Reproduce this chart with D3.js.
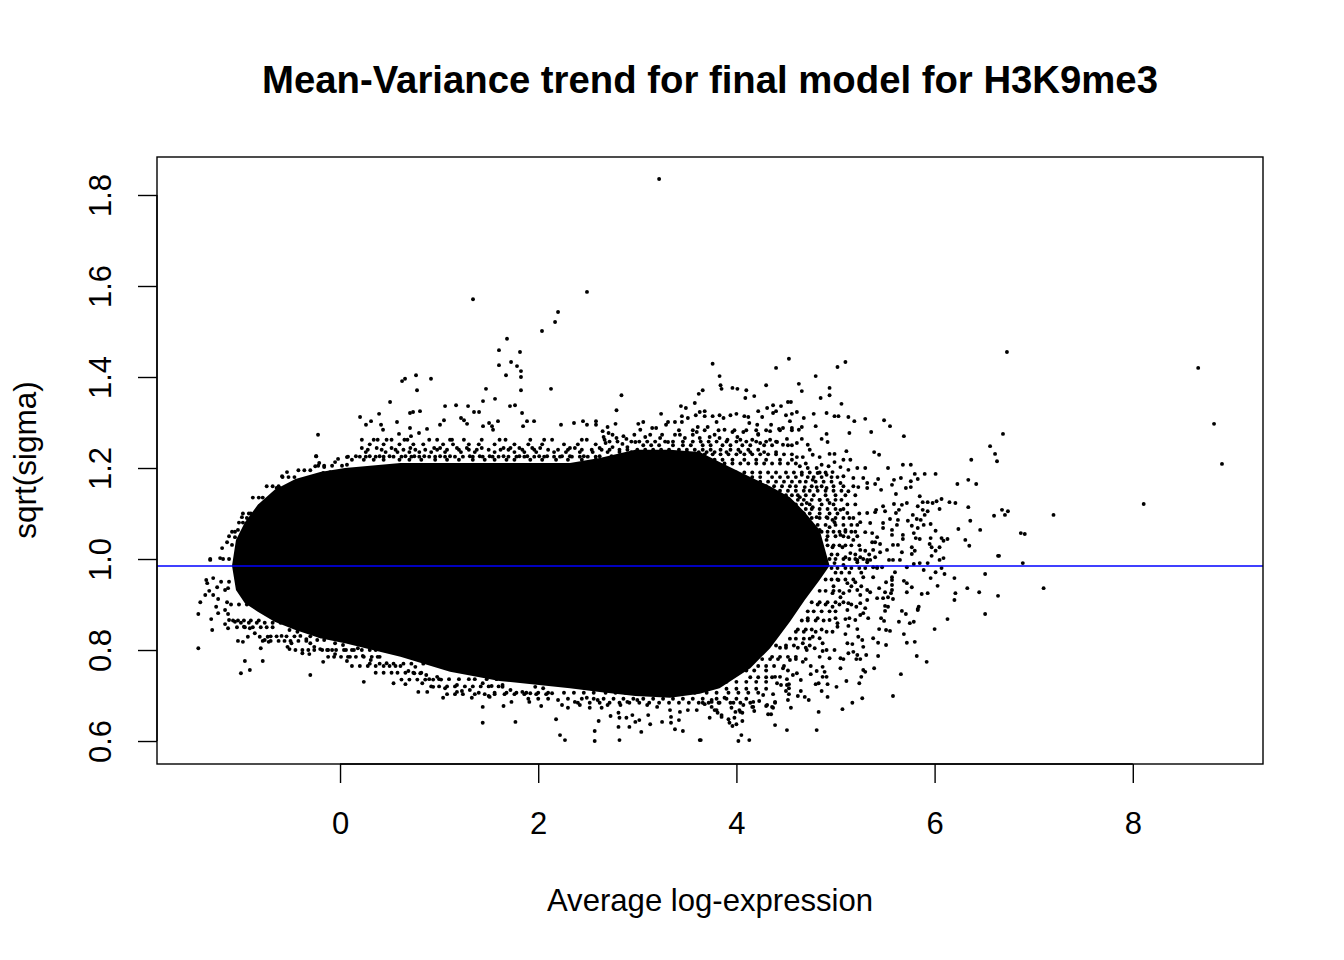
<!DOCTYPE html>
<html><head><meta charset="utf-8">
<script src="https://cdnjs.cloudflare.com/ajax/libs/d3/7.8.5/d3.min.js"></script>
<style>html,body{margin:0;background:#fff}svg{display:block}text{font-family:"Liberation Sans",Arial,sans-serif;fill:#000}</style>
</head><body><svg id="c" width="1344" height="960"></svg>
<script>
const chartTitle="Mean-Variance trend for final model for H3K9me3";
const xTitle="Average log-expression";
const yTitle="sqrt(sigma)";
const xTicks=[0,2,4,6,8];
const yTicks=[0.6,0.8,1.0,1.2,1.4,1.6,1.8];
const xDomain=[-1.847,9.314];
const yDomain=[0.5495,1.8835];
const trendValue=0.9846;
// outline of the saturated core of the cloud
const coreX=[-1.09,-1.05,-0.96,-0.83,-0.66,-0.45,-0.20,0.05,0.61,1.11,1.61,2.32,2.62,2.98,3.33,3.63,3.83,4.14,4.34,4.54,4.69,4.84,4.94];
const coreUpper=[0.985,1.042,1.081,1.119,1.152,1.176,1.191,1.200,1.211,1.211,1.211,1.211,1.222,1.240,1.240,1.235,1.213,1.180,1.160,1.136,1.103,1.064,0.985];
const coreLower=[0.985,0.932,0.903,0.884,0.862,0.844,0.826,0.815,0.785,0.752,0.732,0.716,0.708,0.699,0.695,0.704,0.716,0.760,0.804,0.862,0.910,0.954,0.985];
// top outliers
const upperOutliers=[[3.22,1.835],[1.342,1.571],[2.492,1.587],[2.2,1.543],[2.17,1.521],[2.038,1.501],[1.685,1.484],[1.604,1.459],[1.816,1.455],[1.726,1.433],[1.604,1.426],[1.786,1.424],[1.826,1.413],[1.675,1.404],[1.826,1.4],[1.826,1.371],[1.473,1.374],[2.129,1.374],[0.767,1.404],[0.918,1.396],[0.626,1.391],[0.656,1.396],[0.777,1.371],[0.505,1.345],[1.443,1.347],[1.564,1.352],[1.06,1.336],[1.171,1.338],[1.292,1.336],[1.352,1.323],[1.403,1.323],[1.715,1.336],[1.766,1.338],[1.837,1.321],[0.807,1.325],[0.706,1.321],[0.737,1.323],[0.394,1.319],[0.202,1.312],[0.313,1.303],[0.262,1.295],[0.414,1.295],[0.434,1.284],[0.575,1.301],[0.595,1.275],[0.706,1.288],[0.716,1.27],[0.797,1.277],[0.878,1.286],[1.009,1.295],[1.049,1.305],[1.221,1.31],[1.251,1.305],[1.282,1.297],[1.443,1.292],[1.504,1.299],[1.534,1.292],[1.544,1.284],[1.594,1.303],[1.887,1.303],[1.958,1.303],[1.847,1.292],[2.23,1.295],[2.361,1.299],[2.452,1.303],[2.583,1.303],[2.583,1.295],[2.492,1.295],[-0.222,1.273],[-0.242,1.226],[-0.585,1.182],[-0.535,1.191]];
const upperRightPoints=[[3.76,1.429],[4.53,1.44],[4.4,1.42],[5.02,1.422],[5.1,1.433],[3.83,1.402],[4.8,1.402],[3.84,1.382],[3.85,1.374],[3.96,1.376],[4.01,1.374],[4.1,1.371],[4.09,1.354],[4.18,1.358],[4.3,1.382],[4.63,1.385],[4.66,1.369],[4.94,1.376],[4.94,1.36],[4.85,1.354],[5.06,1.341],[2.84,1.36],[2.79,1.327],[3.66,1.371],[3.62,1.363],[3.58,1.343],[3.44,1.336],[3.49,1.332],[3.24,1.319],[4.52,1.345],[4.55,1.345],[4.37,1.338],[4.31,1.332],[4.45,1.336],[4.22,1.325],[4.37,1.321],[4.4,1.325],[4.26,1.312],[4.5,1.316],[4.56,1.319],[4.61,1.323],[4.78,1.319],[4.91,1.321],[4.99,1.314],[5.03,1.314],[5.13,1.312],[5.19,1.303],[5.3,1.308],[5.49,1.305],[5.55,1.292],[5.36,1.279],[5.14,1.277],[5.69,1.27],[4.8,1.292],[4.91,1.275],[4.86,1.264],[4.92,1.257],[4.68,1.31],[4.66,1.29],[4.63,1.284],[4.56,1.288],[4.54,1.303],[4.43,1.286],[4.47,1.288],[4.35,1.295],[4.34,1.281],[4.13,1.299],[4.21,1.295],[4.22,1.275],[4.08,1.314],[4.12,1.312],[3.94,1.316],[4,1.319],[3.83,1.316],[3.87,1.31],[3.76,1.314],[3.8,1.301],[3.68,1.325],[3.68,1.314],[3.63,1.323],[3.59,1.316],[3.51,1.31],[3.45,1.314],[3.45,1.301],[3.38,1.301],[3.31,1.301],[3.29,1.295],[3.06,1.301],[3.01,1.297],[3.03,1.284],[2.78,1.297],[2.7,1.29],[2.65,1.281],[2.71,1.277],[2.66,1.268],[2.75,1.273],[2.79,1.266],[2.86,1.27],[2.89,1.264],[2.97,1.273],[2.68,1.255],[2.75,1.246],[2.85,1.253],[2.9,1.246],[2.98,1.257],[3.15,1.288],[3.19,1.288],[3.13,1.273],[3.08,1.268],[3.25,1.273],[3.23,1.266],[3.31,1.257],[3.38,1.273],[3.43,1.273],[3.48,1.266],[3.56,1.273],[3.63,1.266],[3.61,1.29],[3.6,1.279],[3.71,1.29],[3.78,1.273],[3.83,1.266],[3.73,1.268],[3.88,1.284],[3.96,1.279],[4.07,1.279],[4.01,1.268],[4.04,1.262],[3.91,1.262],[4.16,1.262],[4.24,1.255],[4.34,1.262],[4.22,1.273],[4.41,1.257],[4.47,1.251],[4.51,1.264],[4.61,1.255],[4.66,1.264],[4.72,1.251],[4.74,1.24],[4.77,1.229],[4.84,1.224],[4.94,1.231],[4.99,1.231],[5.11,1.237],[5.39,1.235],[5.44,1.229]];
const rightPoints=[[4.61,1.224],[4.67,1.224],[4.64,1.204],[4.72,1.2],[4.81,1.2],[4.86,1.207],[4.93,1.204],[4.99,1.213],[5.05,1.202],[5.08,1.218],[5.15,1.218],[5.13,1.196],[5.22,1.2],[5.3,1.2],[5.28,1.178],[5.32,1.167],[5.18,1.178],[5.08,1.182],[4.97,1.191],[4.91,1.185],[4.82,1.189],[4.66,1.185],[4.77,1.174],[4.69,1.158],[4.81,1.158],[4.91,1.156],[5.05,1.167],[5.13,1.149],[5.23,1.158],[5.32,1.156],[5.4,1.165],[5.46,1.152],[5.43,1.176],[5.53,1.2],[5.57,1.163],[5.59,1.174],[5.66,1.178],[5.71,1.156],[5.76,1.171],[5.76,1.158],[5.8,1.187],[5.83,1.176],[5.9,1.187],[6.01,1.187],[5.68,1.207],[5.76,1.207],[5.61,1.143],[5.85,1.138],[5.88,1.125],[5.93,1.125],[5.98,1.123],[6.02,1.127],[6.07,1.132],[6.15,1.125],[6.21,1.123],[6.23,1.165],[6.34,1.174],[6.42,1.165],[6.37,1.218],[6.56,1.248],[6.61,1.231],[6.63,1.215],[6.34,1.114],[6.6,1.095],[6.36,1.084],[6.46,1.064],[6.24,1.066],[6.31,1.042],[6.35,1.029],[6.64,1.007],[6.51,0.967],[6.2,0.958],[6.05,1.11],[5.83,1.116],[5.88,1.108],[5.93,1.105],[5.9,1.097],[5.78,1.097],[5.73,1.084],[5.82,1.088],[5.86,1.086],[5.96,1.077],[5.89,1.075],[5.77,1.073],[5.83,1.068],[6.01,1.062],[5.79,1.057],[5.81,1.046],[5.85,1.044],[5.96,1.046],[6.07,1.046],[6.09,1.04],[6.13,1.044],[5.95,1.033],[5.97,1.026],[6.05,1.026],[6.01,1.018],[5.77,1.026],[5.8,1.018],[5.77,1.011],[5.97,1.007],[6.09,1.002],[6.05,0.998],[5.65,0.998],[5.58,0.998],[5.54,0.998],[5.67,1.015],[5.63,1.031],[5.58,1.031],[5.52,1.02],[5.45,1.033],[5.45,1.015],[5.48,1.068],[5.48,1.079],[5.57,1.064],[5.57,1.053],[5.63,1.086],[5.62,1.075],[5.68,1.053],[5.68,1.044],[5.55,1.088],[5.61,1.101],[5.64,1.108],[5.67,1.119],[5.72,1.123],[5.59,1.121],[5.48,1.116],[5.5,1.105],[5.41,1.108],[5.4,1.103],[4.97,1.086],[5.05,1.108],[5.12,1.101],[5.18,1.09],[5.25,1.081],[5.32,1.101],[5.35,1.079],[5.3,1.059],[5.37,1.057],[5.42,1.048],[5.4,1.037],[5.37,1.037],[5.25,1.02],[5.3,1.018],[5.38,1.02],[5.35,0.998],[5.4,1.004],[5.25,1.004],[5.32,0.993],[5.22,0.998],[5.42,0.982],[5.18,1.042],[5.13,1.048],[5.1,1.064],[5.05,1.053],[4.99,1.081],[5.07,1.026],[5.15,1.013],[5.1,1.004],[4.91,1.042],[4.97,1.026],[4.84,1.064],[4.94,1.07],[4.81,1.092],[4.91,1.092],[4.84,1.13],[4.94,1.123],[4.77,1.114],[4.71,1.123],[4.64,1.136]];
const farRight=[[6.73,1.455],[8.66,1.42],[8.82,1.297],[8.9,1.209],[8.11,1.121],[7.2,1.097],[6.87,1.057],[6.91,1.055],[6.89,0.991],[6.65,1.007],[7.1,0.936],[6.64,0.919],[6.51,0.879],[6.69,1.275],[6.68,1.108],[6.71,1.097],[6.74,1.105],[6.33,0.936],[6.45,0.927],[6.21,0.925],[6.2,0.91],[6.13,0.868],[6.1,0.967],[6.03,0.941],[6.07,0.98],[6.01,0.971],[5.96,0.958],[5.93,0.925],[5.87,0.923],[5.77,0.938],[5.72,0.927],[5.84,0.895],[5.83,0.888],[5.71,0.879],[5.67,0.886],[5.89,0.976],[5.69,0.952],[5.72,0.947],[5.57,0.96],[5.57,0.954],[5.57,0.943],[5.51,0.949],[5.57,0.932],[5.56,0.925],[5.5,0.927],[5.48,0.914],[5.53,0.916],[5.58,0.912],[5.5,0.897],[5.53,0.895],[5.5,0.886],[5.6,0.971]];
const lowerRight=[[6,0.846],[5.92,0.774],[5.82,0.787],[5.8,0.818],[5.72,0.816],[5.69,0.835],[5.66,0.747],[5.58,0.699],[5.43,0.787],[5.43,0.816],[5.39,0.76],[5.27,0.694],[5.17,0.684],[5.07,0.67],[4.81,0.624],[4.51,0.624],[4.39,0.635],[4.83,0.664],[4.55,0.673],[4.13,0.602],[4.02,0.6],[4.05,0.613],[3.64,0.602],[4.92,0.697],[5.01,0.719],[5.11,0.732],[5.24,0.727],[5.26,0.741],[5.05,0.76],[4.92,0.725],[4.86,0.71],[4.8,0.725],[4.83,0.727],[4.73,0.69],[4.69,0.697],[4.65,0.71],[4.62,0.699],[4.52,0.69],[4.5,0.71],[4.53,0.703],[4.51,0.723],[4.53,0.725],[4.39,0.684],[4.37,0.673],[4.3,0.677],[4.32,0.659],[4.35,0.659],[4.23,0.688],[4.18,0.666],[4.16,0.675],[4.06,0.644],[4,0.637],[3.96,0.633],[3.93,0.64],[3.92,0.648],[3.98,0.651],[4.06,0.662],[4.03,0.668],[3.99,0.664],[3.95,0.673],[3.73,0.651],[3.85,0.653],[3.81,0.662],[3.78,0.668],[3.75,0.675],[3.75,0.686],[3.68,0.681],[3.83,0.684],[3.88,0.695],[3.97,0.684],[4.07,0.679],[4.17,0.686],[4.27,0.701],[4.37,0.703],[4.39,0.741],[4.44,0.741],[4.41,0.727],[4.45,0.723],[4.53,0.716],[4.65,0.734],[4.57,0.745],[4.51,0.736],[4.75,0.765],[4.81,0.754],[4.75,0.747],[4.87,0.763],[4.89,0.752],[4.87,0.741],[4.91,0.741],[5.05,0.782],[5.08,0.78],[4.94,0.782],[4.87,0.798],[4.99,0.8],[5.12,0.815],[5.17,0.813],[5.13,0.793],[5.18,0.796],[5.22,0.789],[5.21,0.78],[5.25,0.78],[5.31,0.789],[5.28,0.807],[5.28,0.756],[5.3,0.752],[5.38,0.826],[5.23,0.829],[5.27,0.822],[5.22,0.846],[5.44,0.846],[5.51,0.844],[5.55,0.842],[5.51,0.811],[5.1,0.835],[5.13,0.853],[5.02,0.851],[4.97,0.84],[5.46,0.87],[5.49,0.864],[5.64,0.862],[5.75,0.859],[5.79,0.862],[5.83,0.89],[5.42,0.914],[5.44,0.936],[5.38,0.96],[5.32,0.932],[5.35,0.927],[5.22,0.932],[5.25,0.921],[5.32,0.91],[5.25,0.903],[5.3,0.892],[5.21,0.895],[5.12,0.888],[5.13,0.903],[5.05,0.916],[4.97,0.895],[5.28,0.881],[5.33,0.87],[5.2,0.866],[5.25,0.877],[5.1,0.868],[4.94,0.866],[5.02,0.859],[4.91,0.84],[4.84,0.826],[4.79,0.804],[4.84,0.785],[4.67,0.774],[4.61,0.749],[4.54,0.778],[4.47,0.76],[4.71,0.8],[4.77,0.829],[4.67,0.815],[4.87,0.815],[4.91,0.8],[4.97,0.925],[5.08,0.925],[5.03,0.954],[5.12,0.947],[5.2,0.949],[5.28,0.96],[5.38,0.982],[5.42,0.98],[5.47,0.982],[4.99,0.991],[5.08,0.987],[5.22,0.993],[5.32,0.998],[5.72,0.982],[5.85,0.991],[5.93,0.991],[5.79,0.989]];
const lowerLeft=[[-1.43,0.804],[-1.41,0.905],[-1.43,0.879],[-1.36,0.921],[-1.31,0.998],[-1.21,1.002],[-1.35,0.954],[-1.34,0.947],[-1.28,0.958],[-1.32,0.93],[-1.28,0.921],[-1.24,0.938],[-1.23,0.912],[-1.25,0.895],[-1.3,0.868],[-1.29,0.844],[-1.23,0.881],[-1.16,0.857],[-1.13,0.848],[-1.12,0.866],[-1.16,0.888],[-1.13,0.879],[-1.16,0.932],[-1.13,0.936],[-1.14,0.905],[-1.06,0.862],[-0.97,0.851],[-0.93,0.829],[-1.03,0.82],[-0.98,0.818],[-0.96,0.776],[-0.91,0.756],[-1,0.749],[-0.78,0.776],[-0.8,0.804],[-0.86,0.837],[-0.81,0.829],[-0.91,0.848],[-0.76,0.822],[-0.73,0.829],[-0.72,0.818],[-0.59,0.831],[-0.53,0.807],[-0.51,0.802],[-0.49,0.815],[-0.51,0.844],[-0.43,0.84],[-0.4,0.831],[-0.34,0.824],[-0.3,0.815],[-0.26,0.807],[-0.2,0.802],[-0.13,0.8],[-0.38,0.793],[-0.31,0.791],[-0.17,0.774],[-0.3,0.745],[-0.05,0.791],[0.07,0.776],[0.1,0.785],[0.23,0.787],[0.31,0.778],[0.24,0.73],[0.54,0.727],[0.66,0.725],[0.79,0.708],[0.88,0.708],[1.04,0.695],[1.18,0.708],[1.23,0.71],[1.33,0.695],[1.44,0.675],[1.44,0.64],[1.65,0.677],[1.5,0.699],[1.31,0.712],[1.06,0.716],[0.94,0.719],[0.83,0.727],[0.69,0.754],[0.76,0.763],[0.75,0.749],[0.81,0.749],[0.87,0.745],[0.61,0.765],[0.47,0.771],[0.38,0.785],[0.3,0.8],[0.18,0.804],[0.03,0.811],[-0.05,0.815],[-0.16,0.822],[-0.23,0.822],[0.98,0.741],[1.18,0.723],[1.44,0.727],[1.53,0.721],[1.64,0.719]];
const upperLeft=[[-0.24,1.226],[-0.21,1.211],[-0.25,1.204],[-0.16,1.202],[-0.17,1.189],[-0.05,1.213],[-0.02,1.22],[0.07,1.224],[0.07,1.207],[-0.64,1.156],[-0.61,1.156],[-0.71,1.13],[-0.68,1.134],[-0.81,1.116],[-0.77,1.116],[-0.69,1.112],[-0.99,1.092],[-0.94,1.09],[-0.83,1.101],[-1.03,1.064],[-1.06,1.048],[-1.14,1.037],[-1.19,1.024],[-1.31,1],[-0.43,1.152],[-0.4,1.156],[-0.53,1.136],[-0.59,1.134],[-0.3,1.174],[-0.25,1.178],[-0.96,1.053],[-0.84,1.086],[-1.09,1.031],[-0.1,1.191],[0,1.189],[-0.33,1.163]];
const lowerMiddle=[[1.73,0.686],[1.77,0.642],[1.91,0.686],[2.03,0.677],[2.18,0.648],[2.22,0.613],[2.27,0.602],[2.57,0.622],[2.57,0.6],[2.61,0.644],[2.52,0.673],[2.73,0.655],[2.81,0.662],[2.82,0.651],[2.81,0.631],[2.82,0.602],[2.89,0.651],[2.92,0.631],[2.95,0.657],[2.98,0.642],[3.02,0.646],[3.04,0.62],[3.13,0.637],[3.25,0.642],[3.34,0.653],[3.34,0.64],[3.38,0.626],[3.42,0.646],[3.46,0.622],[3.63,0.602],[1.51,0.697],[1.64,0.723],[1.72,0.712],[1.84,0.708],[1.92,0.705],[1.97,0.719],[2.05,0.716],[2.14,0.705],[2.2,0.69],[2.24,0.679],[2.3,0.673],[2.37,0.686],[2.42,0.679],[2.49,0.695],[2.6,0.69],[2.64,0.673],[2.7,0.679],[2.83,0.679],[2.9,0.686],[3,0.69],[3.1,0.679],[3.11,0.657],[3.2,0.675],[3.33,0.668],[3.43,0.664],[3.51,0.668],[3.6,0.668],[3.66,0.684],[3.75,0.69],[3.8,0.668],[3.85,0.657],[4.04,0.664],[4.17,0.675],[4.31,0.679],[4.36,0.675],[4.39,0.686]];
// dense fringe, listed as rows: [sqrt(sigma), average log-expression values]
const fringeRows=[
[1.262,[0.22,0.34,0.38,0.47,0.52,0.65,0.68,0.90,0.98,1.11,1.13,1.25,1.43,1.61,1.67,1.92,2.06,2.14,2.44,2.49,2.67]],
[1.244,[0.22,0.37,0.52,0.71,0.95,1.01,1.18,1.28,1.43,1.65,1.72,1.81,1.94,2.02,2.32,2.37,2.62]],
[1.226,[0.16,0.30,0.40,0.50,0.66,0.75,0.85,1.01,1.11,1.31,1.41,1.51,1.65,1.81,1.89,2.01,2.09,2.24,2.32,2.46,2.62,2.74,2.9,3.05]],
[1.235,[0.26,0.46,0.58,0.70,0.80,0.92,1.06,1.22,1.36,1.56,1.76,1.86,1.98,2.16,2.28,2.42,2.55,2.7,2.82,2.94,3.1,3.2,3.42,3.5,3.62,3.7,3.78,3.9,4.04,4.14,4.28,4.4]],
[1.218,[0.12,0.24,0.34,0.44,0.6,0.7,0.82,0.96,1.08,1.2,1.34,1.46,1.56,1.68,1.76,1.92,2.04,2.18,2.3,2.44,2.58,2.7,3.78,3.86,3.96,4.08,4.2,4.3,4.44,4.56]],
[1.283,[3.42,3.56,3.68,3.82,3.98,4.1,4.2,4.3,4.44,4.56]],
[1.25,[3.06,3.14,3.22,3.36,3.46,3.54,3.66,3.74,3.86,3.94,4.06,4.14,4.28,4.36,4.52,4.56]],
[1.18,[4.16,4.24,4.36,4.44,4.52,4.6,4.72,4.78,4.86,4.96,5.02]],
[1.16,[4.3,4.38,4.46,4.54,4.6,4.76,4.86,4.98,5.08,5.18]],
[1.14,[4.5,4.56,4.62,4.7,4.78,4.9,5.0,5.1,5.2]],
[1.12,[4.6,4.66,4.74,4.86,4.98,5.12,5.2]],
[1.1,[4.68,4.74,4.84,4.94,5.02,5.24]],
[1.075,[4.82,4.9,5.0,5.08,5.16,5.22]],
[1.05,[4.92,5.0,5.08,5.22]],
[1.01,[4.96,5.02,5.2,5.34]],
[0.97,[5.0,5.06,5.14,5.26]],
[0.94,[4.98,5.16,5.26]],
[0.9,[4.82,4.9,5.04,5.16]],
[0.87,[4.72,4.82,5.0,5.14]],
[0.84,[4.6,4.68,4.8]],
[0.81,[4.4,4.5,4.58,4.74]],
[0.78,[4.26,4.34,4.42,4.6,4.7]],
[0.755,[4.0,4.1,4.18,4.3,4.52]],
[0.73,[3.7,3.8,3.9,4.0,4.1,4.2,4.3]],
[0.706,[1.4,1.56,1.68,1.78,1.88,2.0,2.1,2.26,2.36,2.46,2.56,2.68,2.78,2.88,2.98,3.08,3.18,3.28,3.38,3.48,3.58,3.7,3.8,3.92,4.02,4.12,4.22]],
[0.693,[1.9,2.0,2.1,2.3,2.44,2.56,2.66,2.76,2.86,2.96,3.06,3.16,3.26,3.36,3.46,3.56,3.66,3.8,3.9,4.0,4.1]],
[0.736,[0.9,1.0,1.1,1.2,1.3,1.36,1.48,1.58]],
[0.77,[0.3,0.4,0.54,0.64,0.72,0.84]],
[0.8,[-0.08,0.06,0.14,0.22,0.36,0.44]],
[0.83,[-0.7,-0.64,-0.54,-0.46,-0.3,-0.2,-0.1]],
[0.86,[-1.0,-0.92,-0.84,-0.76,-0.68,-0.6]],
[0.9,[-1.1,-1.02,-0.94]],
[0.95,[-1.2,-1.12]],
[1.0,[-1.18,-1.12]],
[1.05,[-1.12,-1.0]],
[1.1,[-0.9,-0.74]],
[1.14,[-0.66,-0.5]]
];
const topBandRows=[
[1.225,[0.08,0.2,0.26,0.36,0.44,0.54,0.62,0.72,0.8,0.9,0.96,1.06,1.16,1.24,1.34,1.44,1.54,1.6,1.7,1.78,1.86,1.96,2.06,2.16,2.22,2.34,2.42,2.5,2.58]],
[1.24,[0.28,0.42,0.56,0.64,0.76,0.86,0.98,1.08,1.2,1.3,1.38,1.5,1.62,1.7,1.84,1.96,2.1,2.2,2.3,2.44,2.54,2.64,2.72,2.82,2.9,3.0,3.08,3.16,3.24,3.32,3.42,3.5,3.58,3.66,3.74,3.84,3.94,4.02,4.12,4.22]],
[1.252,[0.3,0.44,0.6,0.74,0.84,1.04,1.14,1.3,1.4,1.56,1.76,1.9,2.04,2.26,2.4,2.58]],
[1.258,[2.72,2.8,2.94,3.02,3.1,3.18,3.28,3.36,3.46,3.56,3.64,3.72,3.8,3.9,4.0,4.1,4.2,4.3,4.4]]
];
const leftBandRows=[
[1.06,[-1.09,-1.06]],[1.08,[-1.02,-0.98]],[1.1,[-0.98,-0.92]],
[1.135,[-0.88,-0.82,-0.78]],[1.16,[-0.74,-0.68,-0.62]],[1.18,[-0.58,-0.52,-0.46]],
[1.195,[-0.42,-0.36,-0.3]],[1.205,[-0.22,-0.16,-0.08,0.02]]
];
const bottomBandRows=[
[0.865,[-1.08,-1.03,-0.97,-0.9,-0.82]],
[0.85,[-1.04,-0.96,-0.88,-0.8,-0.74,-0.68]],
[0.82,[-0.78,-0.7,-0.62,-0.56,-0.5,-0.42,-0.34]],
[0.8,[-0.45,-0.38,-0.32,-0.26,-0.18,-0.12,-0.04,0.04,0.12]],
[0.785,[-0.12,-0.06,0.01,0.08,0.16,0.24,0.32,0.4]],
[0.765,[0.12,0.2,0.28,0.36,0.44,0.5,0.56]],
[0.75,[0.36,0.44,0.52,0.58,0.66,0.74,0.82]],
[0.735,[0.62,0.7,0.78,0.86,0.94,1.02]],
[0.72,[0.92,1,1.08,1.16,1.26,1.34,1.42,1.5,1.6]],
[0.703,[1.08,1.16,1.24,1.36,1.46,1.56,1.66,1.76,1.86,1.98,2.08]],
[0.684,[2.4,2.52,2.62,2.72,2.82,2.92,3.02,3.12,3.22,3.32,3.42,3.52,3.62,3.72,3.82,3.94,4.04,4.14]]
];
const lowerRightBandRows=[
[0.715,[3.9,4.0,4.1,4.2,4.3]],
[0.74,[4.14,4.22,4.3,4.36]],[0.765,[4.22,4.3,4.38,4.48]],
[0.785,[4.36,4.44,4.52,4.6]],[0.805,[4.44,4.5,4.62,4.7]],
[0.825,[4.54,4.6,4.68,4.74]],[0.845,[4.62,4.7,4.76,4.86]],
[0.865,[4.66,4.72,4.8,4.88]],[0.885,[4.72,4.78,4.86,4.94,5.0]],
[0.905,[4.76,4.84,4.92,5.0,5.08]],[0.93,[4.84,4.9,4.98,5.04,5.14]],
[0.955,[4.9,4.96,5.02,5.1,5.18]],[0.98,[4.96,5.02,5.1,5.16,5.24,5.3]]
];
const upperRightBandRows=[
[1.0,[4.94,5,5.08,5.14,5.2,5.28]],[1.03,[4.92,4.98,5.04,5.1,5.16,5.24]],
[1.06,[4.86,4.92,4.98,5.04,5.1,5.16,5.2]],[1.09,[4.76,4.84,4.92,5.0,5.08,5.14]],
[1.11,[4.7,4.76,4.84,4.92,5.0,5.08]],[1.13,[4.62,4.68,4.76,4.84,4.92,5.0,5.06]],
[1.15,[4.44,4.52,4.6,4.68,4.74,4.82,4.9,4.98,5.06]],
[1.17,[4.24,4.32,4.4,4.48,4.56,4.64,4.7,4.8,4.88,4.96]],
[1.19,[4.0,4.08,4.16,4.24,4.32,4.4,4.5,4.58,4.66,4.74,4.84,4.9]],
[1.21,[3.8,3.88,3.96,4.04,4.12,4.2,4.28,4.36,4.44,4.52,4.6,4.7]],
[1.23,[3.68,3.76,3.84,3.92,4.0,4.08,4.16,4.24,4.32,4.4,4.48,4.56]]
];

const svg=d3.select("#c");
const x=d3.scaleLinear().domain(xDomain).range([157,1263]);
const y=d3.scaleLinear().domain(yDomain).range([764,157]);
const rows=[...fringeRows,...topBandRows,...leftBandRows,...bottomBandRows,...lowerRightBandRows,...upperRightBandRows];
const allPoints=[...upperOutliers,...upperRightPoints,...rightPoints,...farRight,...lowerRight,...lowerLeft,...upperLeft,...lowerMiddle,...rows.flatMap(([v,xs])=>xs.map(e=>[e,v]))];

svg.append("path").datum(coreX.map((v,i)=>[v,coreUpper[i],coreLower[i]]))
  .attr("fill","#000")
  .attr("d",d3.area().x(d=>x(d[0])).y0(d=>y(d[2])).y1(d=>y(d[1])));
svg.append("g").selectAll("circle").data(allPoints).join("circle")
  .attr("cx",d=>x(d[0])).attr("cy",d=>y(d[1])).attr("r",1.95).attr("fill","#000");
svg.append("line").attr("x1",157).attr("x2",1263).attr("y1",y(trendValue)).attr("y2",y(trendValue))
  .attr("stroke","#0000ff").attr("stroke-width",1.4);
svg.append("rect").attr("x",157).attr("y",157).attr("width",1106).attr("height",607)
  .attr("fill","none").attr("stroke","#000").attr("stroke-width",1.4);

const gx=svg.append("g").attr("transform","translate(0,764)")
  .call(d3.axisBottom(x).tickValues(xTicks).tickSize(19).tickFormat(d3.format("d")));
const gy=svg.append("g").attr("transform","translate(157,0)")
  .call(d3.axisLeft(y).tickValues(yTicks).tickSize(19).tickFormat(d3.format(".1f")));
[gx,gy].forEach(g=>{
  g.attr("font-size",null).attr("font-family",null);
  g.select(".domain").attr("stroke-width",1.4);
  g.selectAll("line").attr("stroke-width",1.4);
  g.selectAll("text").style("font-size","31px");
});
gx.select(".domain").attr("d",`M${x(0)},0H${x(8)}`);
gy.select(".domain").attr("d",`M0,${y(0.6)}V${y(1.8)}`);
gx.selectAll("text").attr("y",0).attr("dy",0).attr("transform","translate(0,69.5)").attr("text-anchor","middle");
gy.selectAll("text").attr("x",0).attr("dy",0).attr("text-anchor","middle").attr("transform","translate(-46,0) rotate(-90)");

svg.append("text").attr("x",710).attr("y",92.5).attr("text-anchor","middle")
  .style("font-size","38.3px").style("font-weight","bold").text(chartTitle);
svg.append("text").attr("x",710).attr("y",911).attr("text-anchor","middle")
  .style("font-size","31.1px").text(xTitle);
svg.append("text").attr("transform","translate(36,460) rotate(-90)").attr("text-anchor","middle")
  .style("font-size","31.5px").text(yTitle);
</script></body></html>
